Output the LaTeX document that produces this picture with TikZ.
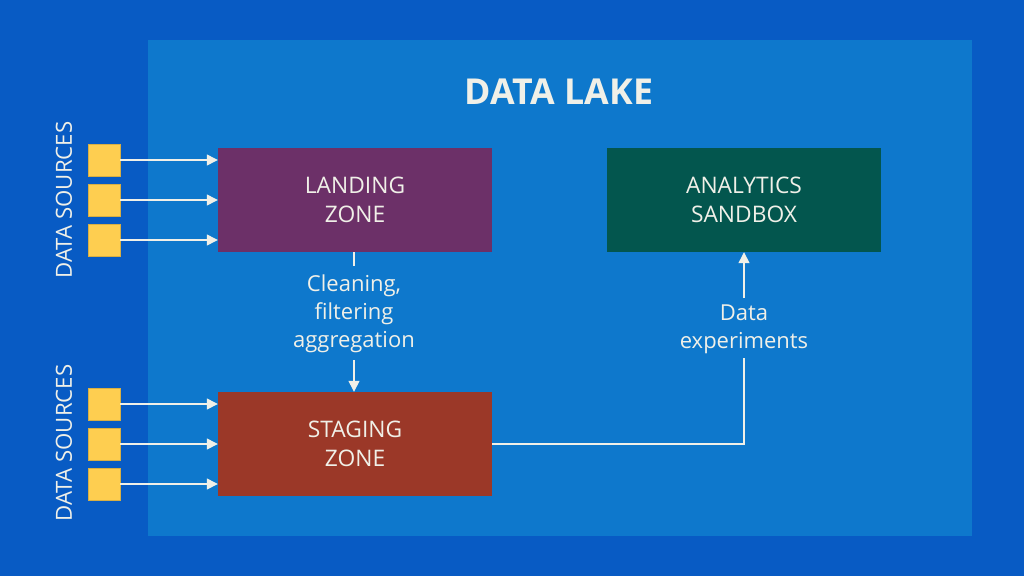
\documentclass[tikz,border=0pt]{standalone}
\usepackage{fontspec}
\setmainfont{Open Sans}
\usetikzlibrary{arrows.meta}
\definecolor{outerbg}{RGB}{8,91,196}
\definecolor{innerbg}{RGB}{14,120,204}
\definecolor{landc}{RGB}{108,48,104}
\definecolor{stagc}{RGB}{155,56,40}
\definecolor{sandc}{RGB}{3,86,78}
\definecolor{srcc}{RGB}{254,206,80}
\definecolor{txt}{RGB}{240,240,232}
\tikzset{
  zone/.style={fill=#1, draw=none, minimum width=274pt, minimum height=104pt, inner sep=0pt,
    text=txt, align=center, font=\fontsize{22.8}{29}\selectfont},
  src/.style={fill=srcc, draw=srcc!85!black, line width=0.4pt, minimum size=32pt, inner sep=0pt},
  lbl/.style={text=txt, align=center, font=\fontsize{22}{28}\selectfont, inner sep=0pt},
  side/.style={text=txt, rotate=90, font=\fontsize{22.2}{24}\selectfont, inner sep=0pt},
  conn/.style={draw=txt, line width=1.3pt, -{Triangle[length=11pt,width=11pt]}},
  plainconn/.style={draw=txt, line width=1.3pt},
}
\begin{document}
\begin{tikzpicture}[x=1pt,y=-1pt]
\fill[outerbg] (0,0) rectangle (1024,576);
\useasboundingbox (0,0) rectangle (1024,576);
\fill[innerbg] (148,40) rectangle (972,536);
\node[text=txt, font=\fontsize{35.7}{38}\bfseries\selectfont, inner sep=0pt] (title) at (559,92) {DATA LAKE};

\node[zone=landc] (landing) at (355,200) {LANDING\\ZONE};
\node[zone=stagc] (staging) at (355,444) {STAGING\\ZONE};
\node[zone=sandc] (sandbox) at (744,200) {ANALYTICS\\SANDBOX};

\node[src] (s1) at (104,160) {};
\node[src] (s2) at (104,200) {};
\node[src] (s3) at (104,240) {};
\node[src] (s4) at (104,404) {};
\node[src] (s5) at (104,444) {};
\node[src] (s6) at (104,484) {};

\node[side] (ds1) at (64,200) {DATA SOURCES};
\node[side] (ds2) at (64,443) {DATA SOURCES};

\foreach \s in {s1,s2,s3} \draw[conn] (\s.east) -- (\s.east -| landing.west);
\foreach \s in {s4,s5,s6} \draw[conn] (\s.east) -- (\s.east -| staging.west);

\node[lbl] (clean) at (354,314) {Cleaning,\\filtering\\aggregation};
\coordinate (c1) at (354,266);
\coordinate (c2) at (354,360);
\draw[plainconn] (landing.south -| c1) -- (c1);
\draw[conn] (c2) -- (staging.north -| c2);

\node[lbl] (exp) at (744,329) {Data\\experiments};
\coordinate (e1) at (744,298);
\coordinate (e2) at (744,358);
\draw[conn] (e1) -- (sandbox.south);
\draw[plainconn] (staging.east) -| (e2);
\end{tikzpicture}
\end{document}
